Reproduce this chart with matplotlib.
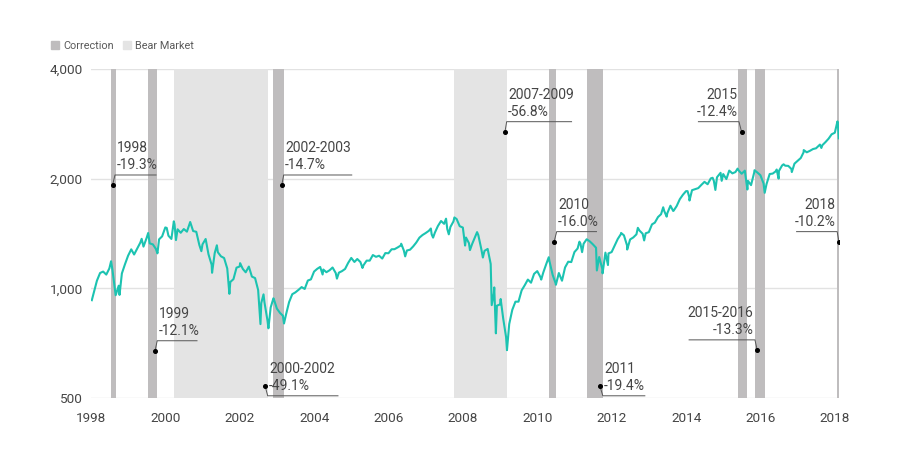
import numpy as np
import pandas as pd
import matplotlib
matplotlib.use("Agg")
import matplotlib.pyplot as plt
from matplotlib.patches import Patch

plt.rcParams['font.family'] = ['Roboto', 'DejaVu Sans']

# S&P 500 month-end closes, Jan 1998 .. Jan 2018
monthly_close = [
    980.3, 1049.3, 1101.8, 1111.8, 1090.8, 1133.8, 1120.7, 957.3, 1017.0, 1098.7, 1163.6, 1229.2,   # 1998
    1279.6, 1238.3, 1286.4, 1335.2, 1301.8, 1372.7, 1328.7, 1320.4, 1282.7, 1362.9, 1388.9, 1469.3,  # 1999
    1394.5, 1366.4, 1498.6, 1452.4, 1420.6, 1454.6, 1430.8, 1517.7, 1436.5, 1429.4, 1315.2, 1320.3,  # 2000
    1366.0, 1239.9, 1160.3, 1249.5, 1256.0, 1224.4, 1211.2, 1133.6, 1040.9, 1059.8, 1139.5, 1148.1,  # 2001
    1130.2, 1106.7, 1147.4, 1076.9, 1067.1, 989.8, 911.6, 916.1, 815.3, 885.8, 936.3, 879.8,         # 2002
    855.7, 841.2, 848.2, 916.9, 963.6, 974.5, 990.3, 1008.0, 996.0, 1050.7, 1058.2, 1111.9,          # 2003
    1131.1, 1144.9, 1126.2, 1107.3, 1120.7, 1140.8, 1101.7, 1104.2, 1114.6, 1130.2, 1173.8, 1211.9,  # 2004
    1181.3, 1203.6, 1180.6, 1156.9, 1191.5, 1191.3, 1234.2, 1220.3, 1228.8, 1207.0, 1249.5, 1248.3,  # 2005
    1280.1, 1280.7, 1294.9, 1310.6, 1270.1, 1270.2, 1276.7, 1303.8, 1335.9, 1377.9, 1400.6, 1418.3,  # 2006
    1438.2, 1406.8, 1420.9, 1482.4, 1530.6, 1503.4, 1455.3, 1474.0, 1526.8, 1549.4, 1481.1, 1468.4,  # 2007
    1378.6, 1330.6, 1322.7, 1385.6, 1400.4, 1280.0, 1267.4, 1282.8, 1166.4, 968.8, 896.2, 903.3,     # 2008
    825.9, 735.1, 797.9, 872.8, 919.1, 919.3, 987.5, 1020.6, 1057.1, 1036.2, 1095.6, 1115.1,         # 2009
    1073.9, 1104.5, 1169.4, 1186.7, 1089.4, 1030.7, 1101.6, 1049.3, 1141.2, 1183.3, 1180.6, 1257.6,  # 2010
    1286.1, 1327.2, 1325.8, 1363.6, 1345.2, 1320.6, 1292.3, 1218.9, 1131.4, 1253.3, 1247.0, 1257.6,  # 2011
    1312.4, 1365.7, 1408.5, 1397.9, 1310.3, 1362.2, 1379.3, 1406.6, 1440.7, 1412.2, 1416.2, 1426.2,  # 2012
    1498.1, 1514.7, 1569.2, 1597.6, 1630.7, 1606.3, 1685.7, 1633.0, 1681.6, 1756.5, 1805.8, 1848.4,  # 2013
    1782.6, 1859.5, 1872.3, 1884.0, 1923.6, 1960.2, 1930.7, 2003.4, 1972.3, 2018.1, 2067.6, 2058.9,  # 2014
    1995.0, 2104.5, 2067.9, 2085.5, 2107.4, 2063.1, 2103.8, 1972.2, 1920.0, 2079.4, 2080.4, 2043.9,  # 2015
    1940.2, 1932.2, 2059.7, 2065.3, 2096.9, 2098.9, 2173.6, 2170.9, 2168.3, 2126.2, 2199.0, 2238.8,  # 2016
    2278.9, 2363.6, 2362.7, 2384.2, 2411.8, 2423.4, 2470.3, 2471.7, 2519.4, 2575.3, 2647.6, 2673.6,  # 2017
    2823.8,                                                                                           # 2018
]

# notable intra-month highs and lows
extra_dates = [
    "1998-01-09", "1998-07-17", "1998-10-08", "1999-05-13", "1999-07-16", "1999-10-15",
    "2000-01-14", "2000-03-24", "2000-04-14", "2000-09-01", "2000-12-20", "2001-04-04",
    "2001-05-21", "2001-09-21", "2002-01-04", "2002-07-23", "2002-08-22", "2002-10-09",
    "2002-11-27", "2003-03-11", "2004-03-24", "2004-08-12", "2005-04-20", "2006-05-05",
    "2006-06-13", "2007-02-20", "2007-03-14", "2007-07-19", "2007-08-15", "2007-10-09",
    "2008-01-22", "2008-03-10", "2008-05-19", "2008-07-15", "2008-10-10", "2008-11-04",
    "2008-11-20", "2009-01-06", "2009-03-09", "2010-02-08", "2010-04-23", "2010-07-02",
    "2011-02-18", "2011-03-16", "2011-04-29", "2011-08-08", "2011-10-03", "2011-11-25",
    "2012-04-02", "2012-06-01", "2012-09-14", "2012-11-15", "2013-05-21", "2013-06-24",
    "2013-08-27", "2014-01-15", "2014-02-03", "2014-09-18", "2014-10-15", "2014-12-05",
    "2014-12-16", "2015-05-21", "2015-08-25", "2015-11-03", "2016-02-11", "2016-06-08",
    "2016-06-27", "2016-08-15", "2016-11-04", "2017-03-01", "2017-08-07", "2017-08-21",
    "2018-01-26", "2018-02-08",
]
extra_values = [
    927.7, 1186.8, 959.4, 1367.6, 1418.8, 1247.4,
    1465.2, 1527.5, 1356.6, 1520.8, 1264.7, 1103.3,
    1312.8, 965.8, 1172.5, 797.7, 962.7, 776.8,
    938.9, 800.7, 1091.3, 1063.2, 1137.5, 1325.8,
    1223.7, 1459.7, 1377.9, 1553.1, 1406.7, 1565.2,
    1310.5, 1273.4, 1426.6, 1214.9, 899.2, 1005.8,
    752.4, 934.7, 676.5, 1056.7, 1217.3, 1022.6,
    1343.0, 1256.9, 1363.6, 1119.5, 1099.2, 1158.7,
    1419.0, 1278.0, 1465.8, 1353.3, 1669.2, 1573.1,
    1630.5, 1848.4, 1741.9, 2011.4, 1862.5, 2075.4,
    1972.7, 2131.0, 1867.6, 2109.8, 1829.1, 2119.1,
    2000.5, 2190.2, 2085.2, 2396.0, 2480.9, 2428.4,
    2872.9, 2581.0,
]

correction_start = ["1998-07-17", "1999-07-16", "2002-11-27", "2010-04-23", "2011-04-29",
                    "2015-05-21", "2015-11-03", "2018-01-26"]
correction_end = ["1998-08-31", "1999-10-15", "2003-03-11", "2010-07-02", "2011-10-03",
                  "2015-08-25", "2016-02-11", "2018-02-08"]
bear_start = ["2000-03-24", "2007-10-09"]
bear_end = ["2002-10-09", "2009-03-09"]

# annotation: title, drop, dot (year, level), elbow (year, level), line end year, side
ann_titles = ["1998", "1999", "2002-2003", "2000-2002", "2007-2009", "2010", "2011",
              "2015", "2015-2016", "2018"]
ann_drops = ["-19.3%", "-12.1%", "-14.7%", "-49.1%", "-56.8%", "-16.0%", "-19.4%",
             "-12.4%", "-13.3%", "-10.2%"]
ann_dot = [(1998.58, 1922), (1999.72, 673), (2003.13, 1922), (2002.68, 540), (2009.13, 2692),
           (2010.45, 1343), (2011.68, 540), (2015.49, 2692), (2015.91, 678), (2018.11, 1343)]
ann_elbow = [(1998.645, 2047), (1999.78, 718), (2003.18, 2047), (2002.75, 507), (2009.175, 2867),
             (2010.52, 1431), (2011.76, 507), (2015.42, 2867), (2015.85, 722), (2018.06, 1431)]
ann_end = [1999.75, 2000.85, 2005.01, 2004.64, 2010.92, 2011.59, 2012.89, 2014.33, 2014.08, 2016.97]
ann_side = ["left"] * 7 + ["right"] * 3

year_ticks = list(range(1998, 2019, 2))
level_ticks = [500, 1000, 2000, 4000]
level_labels = ["500", "1,000", "2,000", "4,000"]


def to_year(d):
    d = pd.to_datetime(pd.Series(d))
    days = np.where(d.dt.is_leap_year, 366, 365)
    return (d.dt.year + (d.dt.dayofyear - 1) / days).to_numpy()


month_ends = pd.period_range("1998-01", "2018-01", freq="M").to_timestamp(how="end").normalize()
df = pd.DataFrame({"date": list(month_ends) + list(pd.to_datetime(extra_dates)),
                   "close": monthly_close + extra_values})
df = df.sort_values("date").reset_index(drop=True)
df["year"] = to_year(df["date"])

line_color = "#1cc3b1"
corr_color = "#bfbdbe"
bear_color = "#e4e4e4"
text_color = "#454545"

fig = plt.figure(figsize=(9, 4.71), dpi=100)
ax = fig.add_axes([91 / 900, 1 - 398 / 471, 748 / 900, 329 / 471])

for s, e in zip(to_year(bear_start), to_year(bear_end)):
    ax.axvspan(s, e, color=bear_color, lw=0, zorder=1)
for s, e in zip(to_year(correction_start), to_year(correction_end)):
    ax.axvspan(s, e, color=corr_color, lw=0, zorder=1)

ax.plot(df["year"], df["close"], color=line_color, lw=1.5, zorder=3)

ax.set_yscale("log")
ax.set_ylim(500, 4000)
ax.set_xlim(1998.0, 2018.11)
ax.set_yticks(level_ticks)
ax.set_yticklabels(level_labels)
ax.yaxis.set_minor_locator(plt.NullLocator())
ax.set_xticks(year_ticks)
ax.set_xticklabels([str(y) for y in year_ticks])
ax.tick_params(axis="both", length=0, labelsize=9.7, labelcolor=text_color)
ax.tick_params(axis="y", pad=6)
ax.tick_params(axis="x", pad=10)
ax.grid(axis="y", color="#e2e2e2", lw=1)
ax.set_axisbelow(True)
for sp in ax.spines.values():
    sp.set_visible(False)

# annotations
for t, p, dot, elb, end, side in zip(ann_titles, ann_drops, ann_dot, ann_elbow, ann_end, ann_side):
    ax.plot([dot[0], elb[0], end], [dot[1], elb[1], elb[1]], color="#555555", lw=0.7, zorder=4)
    ax.plot(dot[0], dot[1], "o", color="black", ms=2.6, zorder=5)
    ha = "left" if side == "left" else "right"
    dx = 1 if side == "left" else -1
    ax.annotate(t + "\n" + p, xy=(elb[0], elb[1]), xytext=(dx, 2), textcoords="offset points",
                ha=ha, va="bottom", fontsize=10, color=text_color,
                linespacing=1.25, zorder=6)

handles = [Patch(color=corr_color, label="Correction"), Patch(color=bear_color, label="Bear Market")]
leg = fig.legend(handles=handles, loc="upper left", bbox_to_anchor=(0.052, 0.922), ncol=2,
                 frameon=False, fontsize=7.8, handlelength=0.7, handleheight=0.7,
                 handletextpad=0.4, columnspacing=0.9, borderaxespad=0)
for txt in leg.get_texts():
    txt.set_color("#5a5a5a")

fig.savefig("out.png", dpi=100, facecolor="white")
